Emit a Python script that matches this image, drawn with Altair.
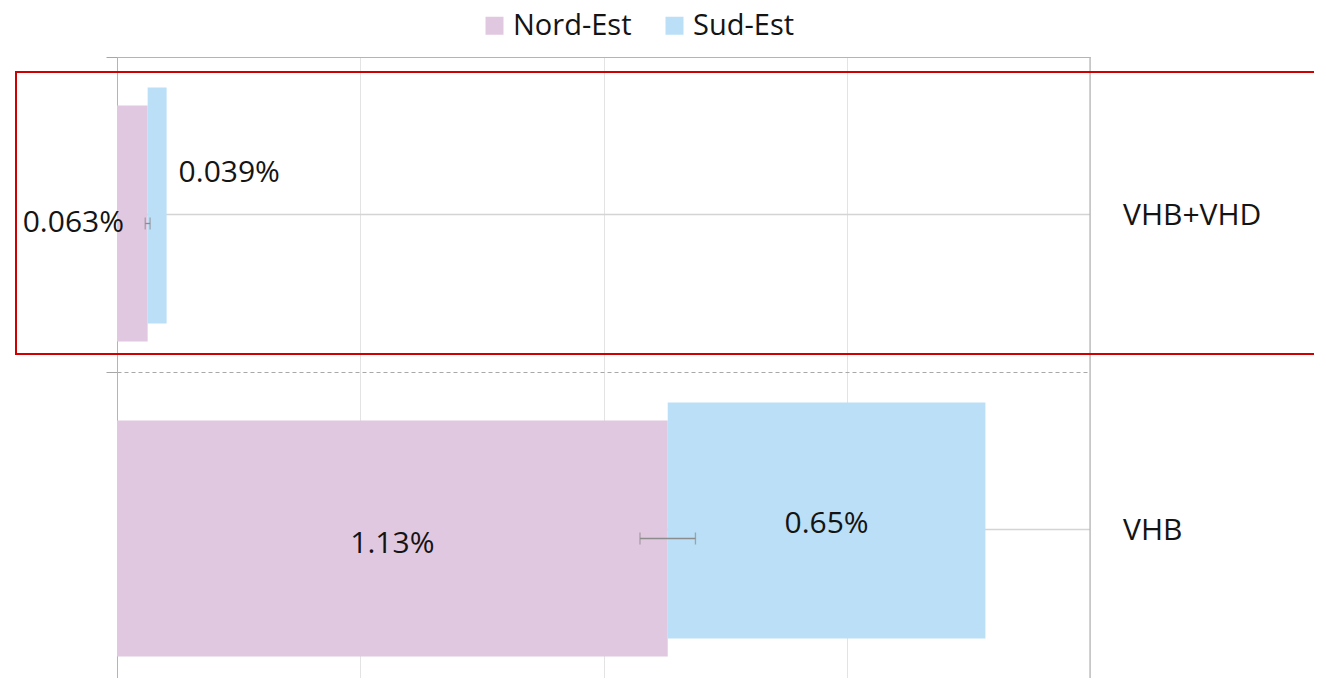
import altair as alt
import pandas as pd

# ---- data ----
categories = ["VHB+VHD", "VHB"]
series = ["Nord-Est", "Sud-Est"]
nord_est = [0.063, 1.132]         # % share
sud_est = [0.039, 0.653]          # % share
nord_est_err = [0.005, 0.057]     # +/- error on Nord-Est
nord_est_labels = ["0.063%", "1.13%"]
sud_est_labels = ["0.039%", "0.65%"]
colors = ["#E1C8E1", "#BBDFF6"]
x_ticks = [0, 0.5, 1.0, 1.5, 2.0]

FONT = "Open Sans"
W, H = 973, 621

rows = []
for i, c in enumerate(categories):
    rows.append(dict(cat=c, series=series[0], start=0.0, end=nord_est[i], label=nord_est_labels[i]))
    rows.append(dict(cat=c, series=series[1], start=nord_est[i], end=nord_est[i] + sud_est[i], label=sud_est_labels[i]))
bars = pd.DataFrame(rows)
bars["mid"] = (bars["start"] + bars["end"]) / 2
err = pd.DataFrame(dict(cat=categories,
                        lo=[v - e for v, e in zip(nord_est, nord_est_err)],
                        hi=[v + e for v, e in zip(nord_est, nord_est_err)]))
cats_df = pd.DataFrame(dict(cat=categories))

xscale = alt.Scale(domain=[0, 2], nice=False, zero=False)
yscale = alt.Scale(domain=categories, range=[0, 630], paddingInner=0, paddingOuter=0)
xaxis = alt.Axis(orient="top", values=x_ticks, labels=False, ticks=False, domain=True,
                 domainColor="#B4B4B4", grid=True, gridColor="#E3E3E3", title=None)
yaxis = alt.Axis(orient="left", labels=False, ticks=True, tickBand="extent", tickSize=11,
                 tickColor="#A6A6A6", domainColor="#B4B4B4", grid=True, gridDash=[4, 3],
                 gridColor="#A8A8A8", title=None)

Y = alt.Y("cat:N", scale=yscale, sort=categories, axis=yaxis)

def X(field):
    return alt.X(field, type="quantitative", scale=xscale, axis=xaxis)

color = alt.Color("series:N", scale=alt.Scale(domain=series, range=colors),
                  legend=alt.Legend(orient="none", legendX=363, legendY=-46, direction="horizontal",
                                    title=None, symbolType="square", symbolSize=324,
                                    symbolStrokeWidth=0, symbolOpacity=1, labelFontSize=29,
                                    labelFont=FONT, labelColor="#141414", labelOffset=4,
                                    labelLimit=400, columnPadding=28, padding=0))

center_grid = alt.Chart(cats_df).mark_rule(color="#D4D4D4", strokeWidth=1.5).encode(y=Y)
right_frame = alt.Chart(cats_df.head(1)).mark_rule(color="#B4B4B4", strokeWidth=1.2).encode(
    x=alt.datum(2.0))

ne_bars = alt.Chart(bars).transform_filter(alt.datum.series == series[0]).mark_bar(
    height=236, yOffset=9).encode(y=Y, x=X("start"), x2="end", color=color)
se_bars = alt.Chart(bars).transform_filter(alt.datum.series == series[1]).mark_bar(
    height=236, yOffset=-9).encode(y=Y, x=X("start"), x2="end", color=color)

err_rule = alt.Chart(err).mark_rule(color="#8C8C8C", strokeWidth=1.3, yOffset=9).encode(
    y=Y, x=X("lo"), x2="hi")
err_lo = alt.Chart(err).mark_tick(color="#8C8C8C", thickness=1.3, size=12, orient="vertical",
                                  yOffset=9).encode(y=Y, x=X("lo"))
err_hi = alt.Chart(err).mark_tick(color="#8C8C8C", thickness=1.3, size=12, orient="vertical",
                                  yOffset=9).encode(y=Y, x=X("hi"))

tstyle = dict(font=FONT, fontSize=30, color="#141414", baseline="middle")
lab_big_ne = alt.Chart(bars).transform_filter(
    (alt.datum.cat == categories[1]) & (alt.datum.series == series[0])).mark_text(
    align="center", dy=14, **tstyle).encode(y=Y, x=X("mid"), text="label:N")
lab_big_se = alt.Chart(bars).transform_filter(
    (alt.datum.cat == categories[1]) & (alt.datum.series == series[1])).mark_text(
    align="center", dy=-6, **tstyle).encode(y=Y, x=X("mid"), text="label:N")
lab_small_ne = alt.Chart(bars).transform_filter(
    (alt.datum.cat == categories[0]) & (alt.datum.series == series[0])).mark_text(
    align="right", dx=7, dy=8, **tstyle).encode(y=Y, x=X("start"), text="label:N")
lab_small_se = alt.Chart(bars).transform_filter(
    (alt.datum.cat == categories[0]) & (alt.datum.series == series[1])).mark_text(
    align="left", dx=12, dy=-42, **tstyle).encode(y=Y, x=X("end"), text="label:N")

cat_labels = alt.Chart(cats_df).mark_text(align="left", dx=33, dy=1, **tstyle).encode(
    y=Y, x=alt.datum(2.0), text="cat:N")

red_box = alt.Chart(cats_df.head(1)).mark_rect(
    fillOpacity=0, stroke="#D00000", strokeWidth=2).encode(
    x=alt.value(-101), x2=alt.value(W + 400), y=alt.value(15), y2=alt.value(297))

chart = alt.layer(
    center_grid, right_frame, ne_bars, se_bars, err_rule, err_lo, err_hi,
    lab_big_ne, lab_big_se, lab_small_ne, lab_small_se, cat_labels, red_box
).properties(
    width=W, height=H,
    autosize=alt.AutoSizeParams(type="none"),
    padding={"left": 109, "top": 49, "right": 224, "bottom": 0},
).configure_view(stroke=None).configure(background="white")

chart.save("out.html", embed_options={"renderer": "svg", "actions": False})
